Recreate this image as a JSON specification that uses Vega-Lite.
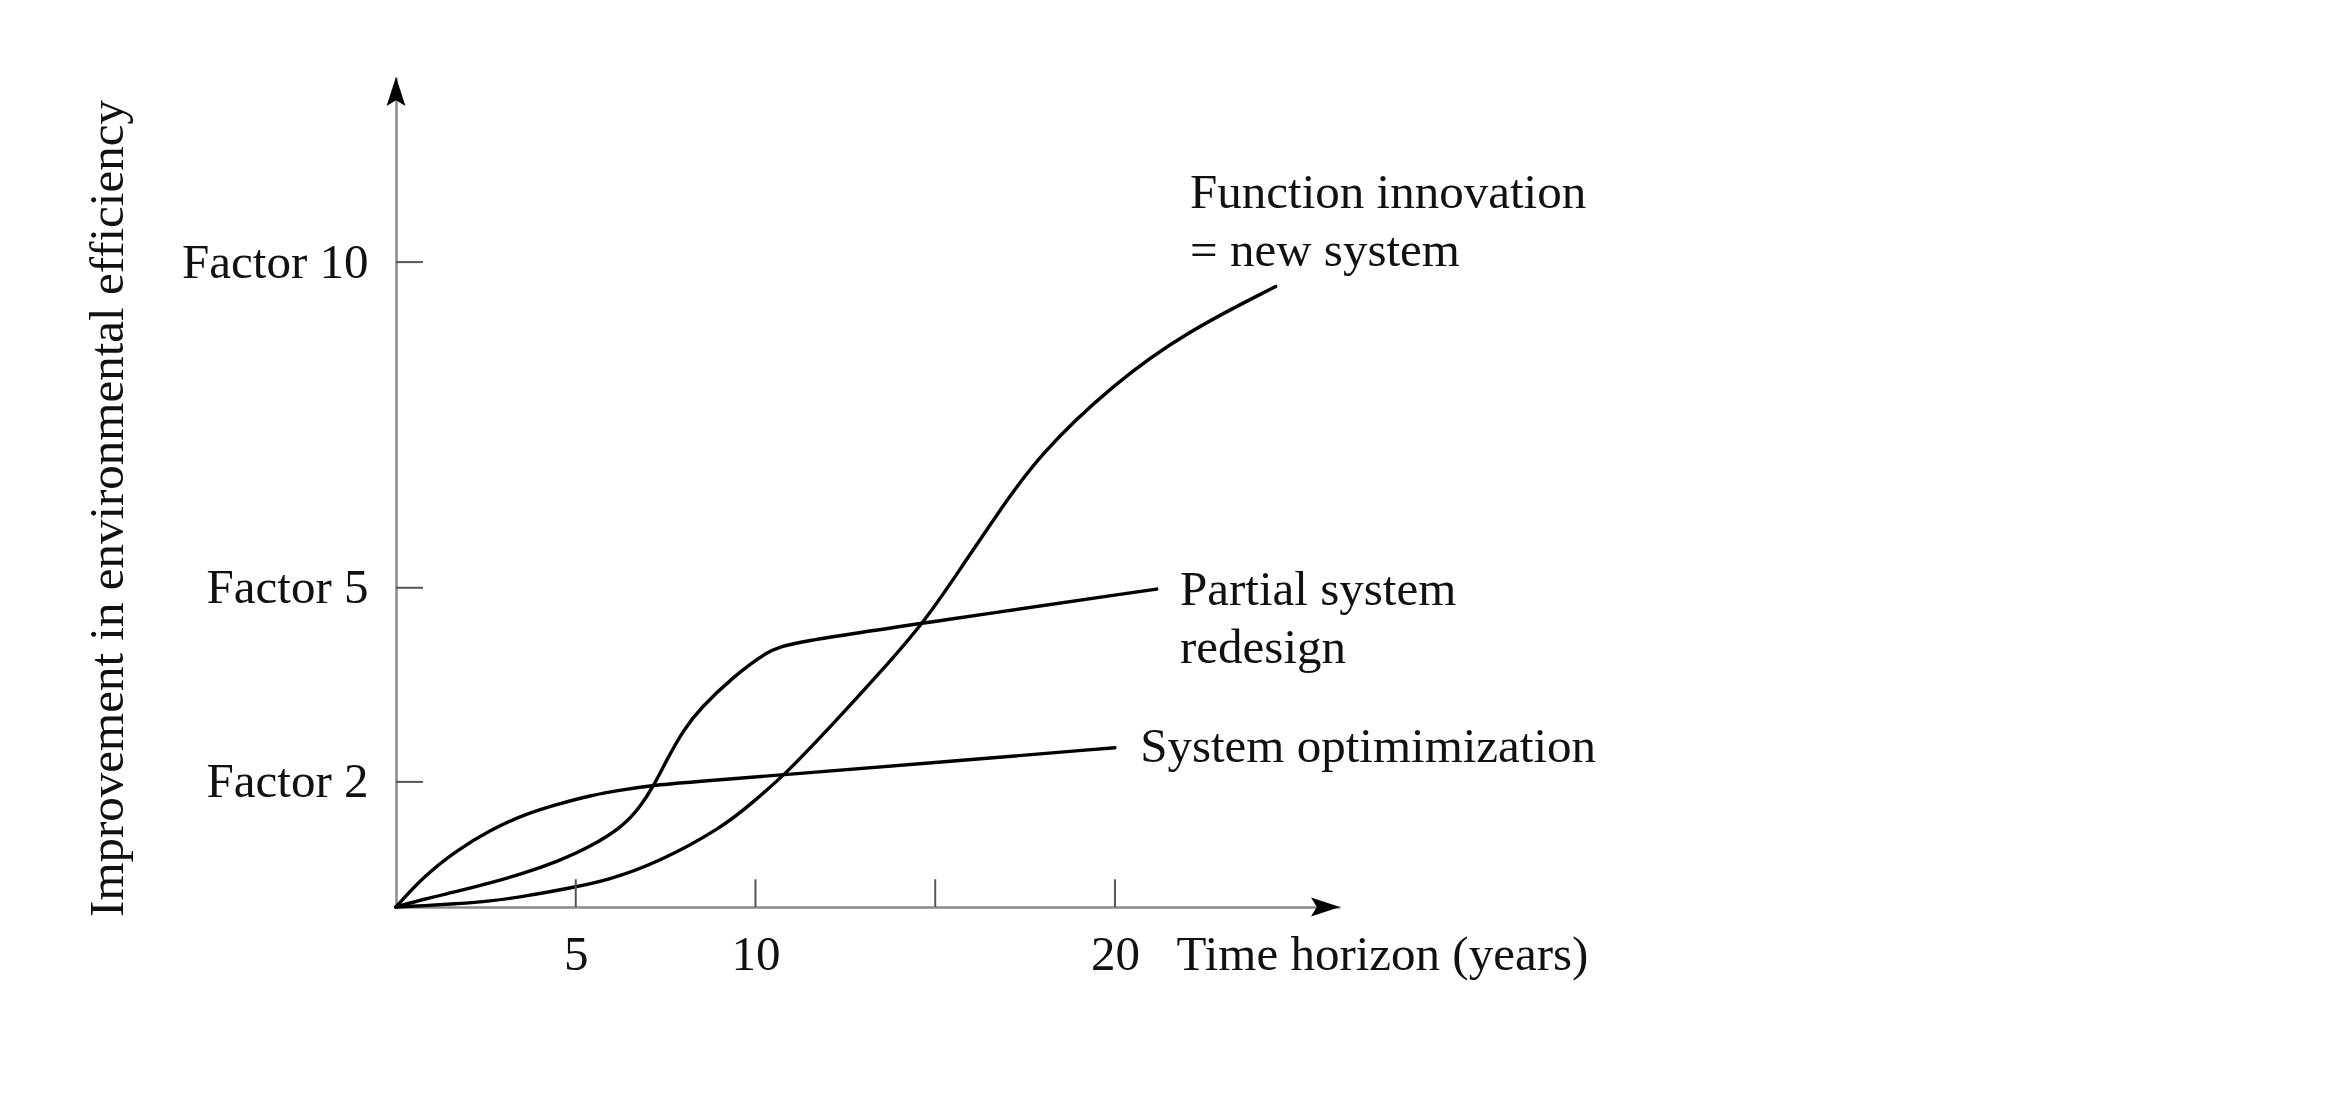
{
  "$schema": "https://vega.github.io/schema/vega-lite/v6.json",
  "width": 944,
  "height": 830,
  "autosize": {"type": "none"},
  "padding": {"left": 396, "top": 77, "right": 986, "bottom": 202},
  "background": "white",
  "config": {
    "view": {"stroke": null},
    "font": "Liberation Serif",
    "axis": {"grid": false}
  },
  "datasets": {
    "curves": [
      {"series": "System optimimization", "x": 0, "y": 0},
      {"series": "System optimimization", "x": 0.76, "y": 0.47},
      {"series": "System optimimization", "x": 1.69, "y": 0.88},
      {"series": "System optimimization", "x": 2.61, "y": 1.19},
      {"series": "System optimimization", "x": 3.54, "y": 1.43},
      {"series": "System optimimization", "x": 4.47, "y": 1.59},
      {"series": "System optimimization", "x": 5.4, "y": 1.73},
      {"series": "System optimimization", "x": 6.32, "y": 1.82},
      {"series": "System optimimization", "x": 7.16, "y": 1.89},
      {"series": "System optimimization", "x": 8.46, "y": 1.95},
      {"series": "System optimimization", "x": 11, "y": 2.06},
      {"series": "System optimimization", "x": 15, "y": 2.24},
      {"series": "System optimimization", "x": 20, "y": 2.47},
      {"series": "Partial system redesign", "x": 0, "y": 0},
      {"series": "Partial system redesign", "x": 0.76, "y": 0.12},
      {"series": "Partial system redesign", "x": 1.69, "y": 0.24},
      {"series": "Partial system redesign", "x": 2.61, "y": 0.37},
      {"series": "Partial system redesign", "x": 3.54, "y": 0.52},
      {"series": "Partial system redesign", "x": 4.47, "y": 0.7},
      {"series": "Partial system redesign", "x": 5.4, "y": 0.93},
      {"series": "Partial system redesign", "x": 6.32, "y": 1.25},
      {"series": "Partial system redesign", "x": 6.79, "y": 1.55},
      {"series": "Partial system redesign", "x": 7.16, "y": 1.87},
      {"series": "Partial system redesign", "x": 7.53, "y": 2.28},
      {"series": "Partial system redesign", "x": 7.99, "y": 2.74},
      {"series": "Partial system redesign", "x": 8.46, "y": 3.08},
      {"series": "Partial system redesign", "x": 9.38, "y": 3.57},
      {"series": "Partial system redesign", "x": 10.31, "y": 3.96},
      {"series": "Partial system redesign", "x": 10.96, "y": 4.1},
      {"series": "Partial system redesign", "x": 15, "y": 4.43},
      {"series": "Partial system redesign", "x": 21.16, "y": 4.93},
      {"series": "Function innovation", "x": 0, "y": 0},
      {"series": "Function innovation", "x": 0.76, "y": 0.02},
      {"series": "Function innovation", "x": 1.69, "y": 0.05},
      {"series": "Function innovation", "x": 2.61, "y": 0.09},
      {"series": "Function innovation", "x": 3.54, "y": 0.16},
      {"series": "Function innovation", "x": 4.89, "y": 0.3},
      {"series": "Function innovation", "x": 5.86, "y": 0.41},
      {"series": "Function innovation", "x": 7.26, "y": 0.68},
      {"series": "Function innovation", "x": 9.1, "y": 1.24},
      {"series": "Function innovation", "x": 9.94, "y": 1.63},
      {"series": "Function innovation", "x": 10.89, "y": 2.09},
      {"series": "Function innovation", "x": 12.16, "y": 2.84},
      {"series": "Function innovation", "x": 13.46, "y": 3.63},
      {"series": "Function innovation", "x": 14.76, "y": 4.46},
      {"series": "Function innovation", "x": 15.8, "y": 5.33},
      {"series": "Function innovation", "x": 16.8, "y": 6.15},
      {"series": "Function innovation", "x": 17.87, "y": 7.0},
      {"series": "Function innovation", "x": 19.93, "y": 8.1},
      {"series": "Function innovation", "x": 21.99, "y": 8.92},
      {"series": "Function innovation", "x": 24.47, "y": 9.62}
    ],
    "xticks": [{"x": 5}, {"x": 10}, {"x": 15}, {"x": 20}],
    "yticks": [{"y": 1.94}, {"y": 4.95}, {"y": 10}],
    "arrows": [
      {"axis": "y", "x": 0, "y": 12.87},
      {"axis": "x", "x": 26.26, "y": 0}
    ],
    "labels": [
      {"label": "Function innovation\n= new system", "x": 22.09, "y": 10.84},
      {"label": "Partial system\nredesign", "x": 21.81, "y": 4.68},
      {"label": "System optimimization", "x": 20.7, "y": 2.25}
    ]
  },
  "layer": [
    {
      "data": {"name": "curves"},
      "mark": {"type": "line", "interpolate": "basis", "color": "#000", "strokeWidth": 3.4, "strokeCap": "round"},
      "encoding": {
        "x": {
          "field": "x", "type": "quantitative",
          "scale": {"domain": [0, 26.26], "nice": false, "zero": false},
          "axis": {
            "values": [5, 10, 20], "ticks": false, "tickSize": 0,
            "labelPadding": 62, "labelBaseline": "alphabetic", "labelFont": "Liberation Serif",
            "labelFontSize": 49, "labelColor": "#111", "labelFlush": false, "labelOverlap": false,
            "domainColor": "#8a8a8a", "domainWidth": 2.5,
            "title": "Time horizon (years)", "titleX": 780, "titleY": 62, "titleAlign": "left",
            "titleAnchor": "start", "titleBaseline": "alphabetic", "titleFont": "Liberation Serif",
            "titleFontSize": 49, "titleFontWeight": "normal", "titleColor": "#111", "titleAngle": 0
          }
        },
        "y": {
          "field": "y", "type": "quantitative",
          "scale": {"domain": [0, 12.87], "nice": false, "zero": false},
          "axis": {
            "values": [1.94, 4.95, 10],
            "labelExpr": "datum.value > 8 ? 'Factor 10' : datum.value > 4 ? 'Factor 5' : 'Factor 2'",
            "ticks": false, "tickSize": 0, "labelPadding": 28, "labelFont": "Liberation Serif",
            "labelFontSize": 49, "labelLimit": 600, "labelColor": "#111", "labelBaseline": "middle",
            "labelFlush": false, "labelOverlap": false,
            "domainColor": "#8a8a8a", "domainWidth": 2.5,
            "title": "Improvement in environmental efficiency", "titleX": -289, "titleY": 431,
            "titleAngle": 270, "titleAlign": "center", "titleBaseline": "middle",
            "titleFont": "Liberation Serif", "titleFontSize": 49, "titleFontWeight": "normal",
            "titleColor": "#111", "titleLimit": 2000
          }
        },
        "detail": {"field": "series", "type": "nominal"}
      }
    },
    {
      "data": {"name": "xticks"},
      "mark": {"type": "rule", "color": "#555", "strokeWidth": 2},
      "encoding": {
        "x": {"field": "x", "type": "quantitative"},
        "y": {"datum": 0},
        "y2": {"datum": 0.43}
      }
    },
    {
      "data": {"name": "yticks"},
      "mark": {"type": "rule", "color": "#555", "strokeWidth": 2},
      "encoding": {
        "y": {"field": "y", "type": "quantitative"},
        "x": {"datum": 0},
        "x2": {"datum": 0.75}
      }
    },
    {
      "data": {"name": "arrows"},
      "transform": [{"filter": "datum.axis === 'y'"}],
      "mark": {"type": "point", "shape": "M0,0L0.65,2L0,1.6L-0.65,2Z", "filled": true, "size": 841, "color": "#000", "opacity": 1},
      "encoding": {
        "x": {"field": "x", "type": "quantitative"},
        "y": {"field": "y", "type": "quantitative"}
      }
    },
    {
      "data": {"name": "arrows"},
      "transform": [{"filter": "datum.axis === 'x'"}],
      "mark": {"type": "point", "shape": "M0,0L0.65,2L0,1.6L-0.65,2Z", "filled": true, "size": 841, "angle": 90, "color": "#000", "opacity": 1},
      "encoding": {
        "x": {"field": "x", "type": "quantitative"},
        "y": {"field": "y", "type": "quantitative"}
      }
    },
    {
      "data": {"name": "labels"},
      "mark": {"type": "text", "align": "left", "baseline": "alphabetic", "fontSize": 49, "font": "Liberation Serif", "color": "#111", "lineBreak": "\n", "lineHeight": 58},
      "encoding": {
        "x": {"field": "x", "type": "quantitative"},
        "y": {"field": "y", "type": "quantitative"},
        "text": {"field": "label", "type": "nominal"}
      }
    }
  ]
}
